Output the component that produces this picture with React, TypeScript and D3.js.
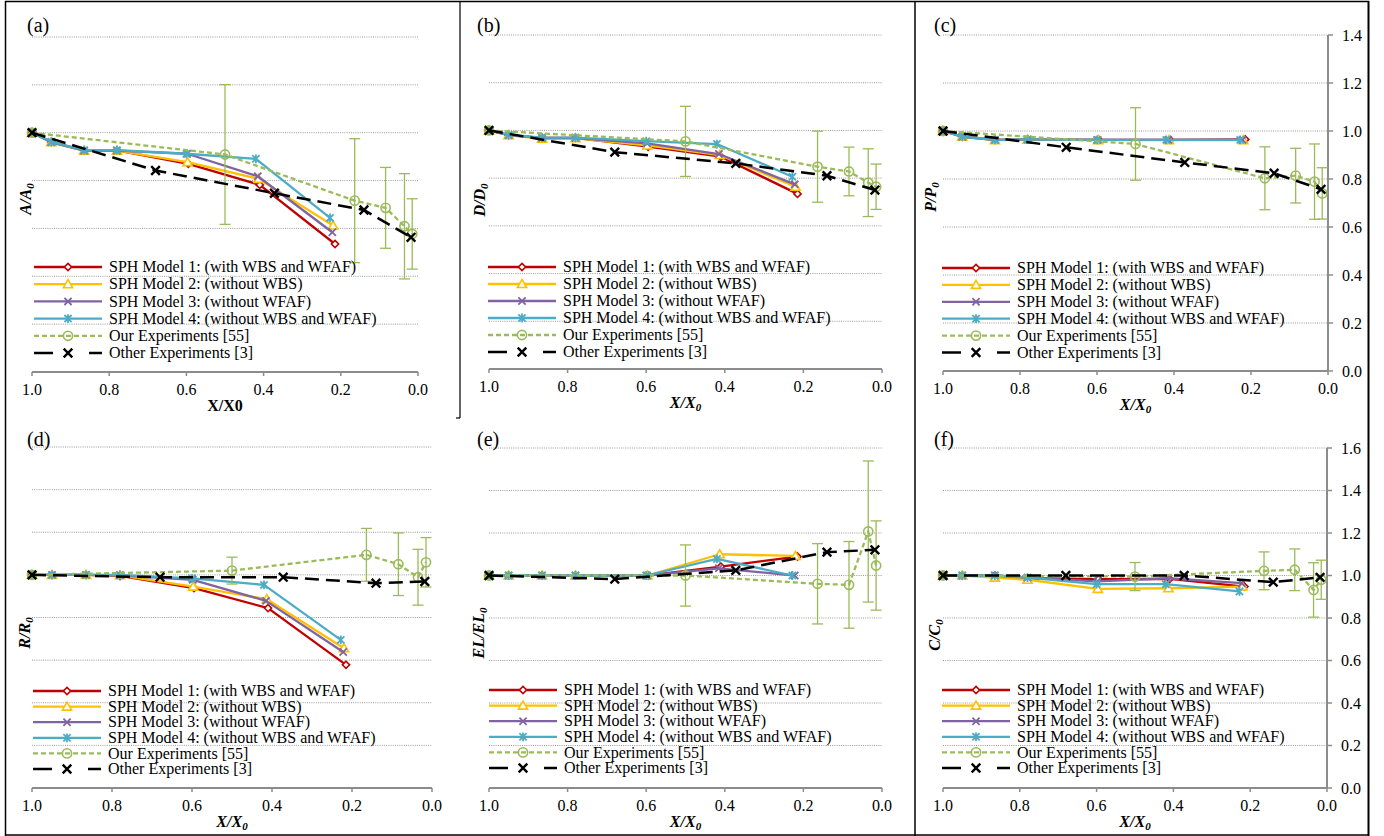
import React from "react";
import * as d3 from "d3";

// ---------- shared x positions (X/X0) ----------
const xModel1 = [1.0, 0.95, 0.865, 0.78, 0.595, 0.41, 0.215];
const xModel2 = [1.0, 0.95, 0.865, 0.78, 0.597, 0.413, 0.22];
const xModel3 = [1.0, 0.95, 0.865, 0.78, 0.598, 0.415, 0.222];
const xModel4 = [1.0, 0.95, 0.865, 0.78, 0.6, 0.42, 0.228];
const xOurExp = [1.0, 0.5, 0.164, 0.084, 0.035, 0.015];
const xOtherExp = [1.0, 0.68, 0.372, 0.14, 0.018];

const xTicks = [1.0, 0.8, 0.6, 0.4, 0.2, 0.0];

const legendLabels = [
  "SPH Model 1: (with WBS and WFAF)",
  "SPH Model 2: (without WBS)",
  "SPH Model 3: (without WFAF)",
  "SPH Model 4: (without WBS and WFAF)",
  "Our Experiments [55]",
  "Other Experiments [3]",
];

// ---------- (a) A/A0 ----------
const aModel1 = [1, 0.961, 0.926, 0.926, 0.87, 0.782, 0.535];
const aModel2 = [1, 0.96, 0.925, 0.925, 0.877, 0.807, 0.612];
const aModel3 = [1, 0.96, 0.925, 0.925, 0.912, 0.818, 0.584];
const aModel4 = [1, 0.962, 0.927, 0.927, 0.912, 0.891, 0.644];
const aOurExp = [1, 0.909, 0.716, 0.686, 0.609, 0.577];
const aOurErr = [0, 0.292, 0.259, 0.169, 0.22, 0.147];
const aOtherExp = [1, 0.842, 0.747, 0.677, 0.563];

// ---------- (b) D/D0 ----------
const bModel1 = [1, 0.98, 0.969, 0.969, 0.932, 0.89, 0.734];
const bModel2 = [1, 0.98, 0.965, 0.967, 0.937, 0.897, 0.764];
const bModel3 = [1, 0.98, 0.968, 0.968, 0.946, 0.901, 0.774];
const bModel4 = [1, 0.982, 0.97, 0.97, 0.955, 0.943, 0.806];
const bOurExp = [1, 0.954, 0.848, 0.828, 0.781, 0.764];
const bOurErr = [0, 0.147, 0.149, 0.102, 0.142, 0.095];
const bOtherExp = [1, 0.909, 0.862, 0.81, 0.75];

// ---------- (c) P/P0 ----------
const cModel1 = [1, 0.976, 0.963, 0.965, 0.963, 0.963, 0.965];
const cModel2 = [1, 0.976, 0.962, 0.964, 0.962, 0.962, 0.962];
const cModel3 = [1, 0.976, 0.963, 0.965, 0.963, 0.963, 0.963];
const cModel4 = [1, 0.977, 0.963, 0.965, 0.963, 0.963, 0.963];
const cOurExp = [1, 0.946, 0.803, 0.814, 0.789, 0.74];
const cOurErr = [0, 0.151, 0.131, 0.114, 0.157, 0.107];
const cOtherExp = [1, 0.932, 0.869, 0.824, 0.757];

// ---------- (d) R/R0 ----------
const dModel1 = [1, 1, 1, 0.995, 0.938, 0.844, 0.578];
const dModel2 = [1, 1, 1, 0.998, 0.945, 0.886, 0.656];
const dModel3 = [1, 1, 1, 0.998, 0.977, 0.878, 0.638];
const dModel4 = [1, 1, 1, 1, 0.984, 0.953, 0.695];
const dOurExp = [1, 1.02, 1.094, 1.05, 0.989, 1.059];
const dOurErr = [0, 0.063, 0.124, 0.147, 0.131, 0.116];
const dOtherExp = [1, 0.989, 0.989, 0.961, 0.969];

// ---------- (e) EL/EL0 ----------
const eModel1 = [1, 1, 1, 1, 1, 1.042, 1.089];
const eModel2 = [1, 1, 1, 1, 1, 1.1, 1.092];
const eModel3 = [1, 1, 1, 1, 1, 1.034, 1.0];
const eModel4 = [1, 1, 1, 1, 1, 1.078, 1.0];
const eOurExp = [1, 1.0, 0.961, 0.956, 1.207, 1.047];
const eOurErr = [0, 0.144, 0.189, 0.204, 0.332, 0.21];
const eOtherExp = [1, 0.983, 1.024, 1.11, 1.121];

// ---------- (f) C/C0 ----------
const fModel1 = [1, 1, 1, 0.987, 0.983, 0.984, 0.948];
const fModel2 = [1, 1, 0.99, 0.98, 0.937, 0.94, 0.948];
const fModel3 = [1, 1, 1, 0.99, 0.972, 0.987, 0.964];
const fModel4 = [1, 1, 1, 0.99, 0.959, 0.959, 0.925];
const fOurExp = [1, 0.995, 1.022, 1.027, 0.932, 0.98];
const fOurErr = [0, 0.066, 0.089, 0.098, 0.128, 0.092];
const fOtherExp = [1, 1.0, 1.0, 0.969, 0.991];

// ---------- styles ----------
const COLORS = ["#C00000", "#FFC000", "#8064A2", "#4BACC6", "#9BBB59", "#000000"];
const MARKERS = ["diamond", "triangle", "x", "star", "circle", "xbold"];
const FONT = "'Liberation Serif', 'Times New Roman', serif";

type PanelDef = {
  label: string;
  yVar: string;
  xTitleSub: boolean;
  yMax: number;
  right: boolean;
  models: number[][];
  our: number[];
  ourErr: number[];
  other: number[];
  L: {
    x0: number; x1: number; yT: number; yB: number;
    tx: number; ty: number; lx: number; ly: number;
    legX: number; legY: number; legStep: number;
  };
};

const PANELS: PanelDef[] = [
  {
    label: "(a)", yVar: "A", xTitleSub: false, yMax: 1.4, right: false,
    models: [aModel1, aModel2, aModel3, aModel4], our: aOurExp, ourErr: aOurErr, other: aOtherExp,
    L: { x0: 32, x1: 418, yT: 37, yB: 372, tx: 25, ty: 199, lx: 27, ly: 32, legX: 34, legY: 267, legStep: 17.2 },
  },
  {
    label: "(b)", yVar: "D", xTitleSub: true, yMax: 1.4, right: false,
    models: [bModel1, bModel2, bModel3, bModel4], our: bOurExp, ourErr: bOurErr, other: bOtherExp,
    L: { x0: 489, x1: 882, yT: 35, yB: 369, tx: 479, ty: 200, lx: 477, ly: 32, legX: 488, legY: 267, legStep: 17 },
  },
  {
    label: "(c)", yVar: "P", xTitleSub: true, yMax: 1.4, right: true,
    models: [cModel1, cModel2, cModel3, cModel4], our: cOurExp, ourErr: cOurErr, other: cOtherExp,
    L: { x0: 943, x1: 1328, yT: 35, yB: 371, tx: 930, ty: 197, lx: 934, ly: 32, legX: 942, legY: 268, legStep: 16.9 },
  },
  {
    label: "(d)", yVar: "R", xTitleSub: true, yMax: 1.6, right: false,
    models: [dModel1, dModel2, dModel3, dModel4], our: dOurExp, ourErr: dOurErr, other: dOtherExp,
    L: { x0: 32, x1: 432, yT: 447, yB: 788, tx: 24, ty: 633, lx: 27, ly: 446, legX: 33, legY: 691, legStep: 15.6 },
  },
  {
    label: "(e)", yVar: "EL", xTitleSub: true, yMax: 1.6, right: false,
    models: [eModel1, eModel2, eModel3, eModel4], our: eOurExp, ourErr: eOurErr, other: eOtherExp,
    L: { x0: 489, x1: 882, yT: 448, yB: 788, tx: 478, ty: 633, lx: 477, ly: 446, legX: 489, legY: 690, legStep: 15.6 },
  },
  {
    label: "(f)", yVar: "C", xTitleSub: true, yMax: 1.6, right: true,
    models: [fModel1, fModel2, fModel3, fModel4], our: fOurExp, ourErr: fOurErr, other: fOtherExp,
    L: { x0: 943, x1: 1327, yT: 448, yB: 788, tx: 934, ty: 635, lx: 934, ly: 446, legX: 942, legY: 690, legStep: 15.6 },
  },
];

const MODEL_X = [xModel1, xModel2, xModel3, xModel4];

function Marker({ type, x, y, color }: { type: string; x: number; y: number; color: string }) {
  switch (type) {
    case "diamond": {
      const r = 3.6;
      return <path d={`M${x},${y - r}L${x + r},${y}L${x},${y + r}L${x - r},${y}Z`} fill="#fff" stroke={color} strokeWidth={1.6} />;
    }
    case "triangle": {
      return <path d={`M${x},${y - 4.5}L${x + 4.6},${y + 3.5}L${x - 4.6},${y + 3.5}Z`} fill="#fff" stroke={color} strokeWidth={1.6} />;
    }
    case "x": {
      const r = 3.6;
      return <path d={`M${x - r},${y - r}L${x + r},${y + r}M${x - r},${y + r}L${x + r},${y - r}`} stroke={color} strokeWidth={1.8} />;
    }
    case "star": {
      const r = 3.6;
      return (
        <path
          d={`M${x - r},${y - r}L${x + r},${y + r}M${x - r},${y + r}L${x + r},${y - r}M${x},${y - r - 0.8}L${x},${y + r + 0.8}`}
          stroke={color}
          strokeWidth={1.8}
        />
      );
    }
    case "circle":
      return <circle cx={x} cy={y} r={4.6} fill="none" stroke={color} strokeWidth={1.6} />;
    case "xbold": {
      const r = 4.3;
      return <path d={`M${x - r},${y - r}L${x + r},${y + r}M${x - r},${y + r}L${x + r},${y - r}`} stroke={color} strokeWidth={2.4} />;
    }
  }
  return null;
}

function Panel({ p }: { p: PanelDef }) {
  const L = p.L;
  const xs = d3.scaleLinear().domain([1, 0]).range([L.x0, L.x1]);
  const ys = d3.scaleLinear().domain([0, p.yMax]).range([L.yB, L.yT]);
  const yTicks = d3.range(0, p.yMax + 1e-6, 0.2);
  const fmt = d3.format(".1f");
  const line = d3
    .line<[number, number]>()
    .x((d) => xs(d[0]))
    .y((d) => ys(d[1]));

  const modelPts = p.models.map((vals, i) => vals.map((v, j) => [MODEL_X[i][j], v] as [number, number]));
  const ourPts = p.our.map((v, j) => [xOurExp[j], v] as [number, number]);
  const otherPts = p.other.map((v, j) => [xOtherExp[j], v] as [number, number]);

  const axisColor = "#8C8C8C";

  return (
    <g>
      {/* gridlines */}
      {yTicks
        .filter((t) => t > 1e-6)
        .map((t) => (
          <line
            key={"g" + t}
            x1={L.x0}
            x2={L.x1}
            y1={ys(t)}
            y2={ys(t)}
            stroke="#9A9A9A"
            strokeWidth={1}
            strokeDasharray="1 1.2"
          />
        ))}

      {/* bottom axis */}
      <line x1={L.x0} x2={L.x1} y1={L.yB} y2={L.yB} stroke={axisColor} strokeWidth={2} />
      {xTicks.map((t) => (
        <g key={"xt" + t}>
          <line x1={xs(t)} x2={xs(t)} y1={L.yB} y2={L.yB + 4} stroke={axisColor} strokeWidth={1.5} />
          <text x={xs(t)} y={L.yB + 23} textAnchor="middle" fontSize={16} fill="#000">
            {fmt(t)}
          </text>
        </g>
      ))}

      {/* right axis */}
      {p.right && (
        <g>
          <line x1={L.x1} x2={L.x1} y1={L.yT} y2={L.yB} stroke={axisColor} strokeWidth={2} />
          {yTicks.map((t) => (
            <g key={"yt" + t}>
              <line x1={L.x1} x2={L.x1 + 5} y1={ys(t)} y2={ys(t)} stroke={axisColor} strokeWidth={1.5} />
              <text x={L.x1 + 14} y={ys(t)} dy="0.35em" textAnchor="start" fontSize={16} fill="#000">
                {fmt(t)}
              </text>
            </g>
          ))}
        </g>
      )}

      {/* x title */}
      {p.xTitleSub ? (
        <text x={(L.x0 + L.x1) / 2} y={L.yB + 39} textAnchor="middle" fontSize={16} fontWeight="bold" fontStyle="italic">
          X/X<tspan fontSize={11} dy={3}>0</tspan>
        </text>
      ) : (
        <text x={(L.x0 + L.x1) / 2} y={L.yB + 39} textAnchor="middle" fontSize={16} fontWeight="bold">
          X/X0
        </text>
      )}

      {/* y title */}
      <text
        transform={`translate(${L.tx},${L.ty}) rotate(-90)`}
        textAnchor="middle"
        dy="0.35em"
        fontSize={16}
        fontWeight="bold"
        fontStyle="italic"
      >
        {p.yVar}/{p.yVar}
        <tspan fontSize={11} dy={3}>0</tspan>
      </text>

      {/* panel label */}
      <text x={L.lx} y={L.ly} fontSize={20}>
        {p.label}
      </text>

      {/* SPH model series */}
      {modelPts.map((pts, i) => (
        <g key={"m" + i}>
          <path d={line(pts) || ""} fill="none" stroke={COLORS[i]} strokeWidth={2.3} strokeLinejoin="round" />
          {pts.map((d, j) => (
            <Marker key={j} type={MARKERS[i]} x={xs(d[0])} y={ys(d[1])} color={COLORS[i]} />
          ))}
        </g>
      ))}

      {/* our experiments */}
      <g>
        {ourPts.map((d, j) =>
          p.ourErr[j] > 0 ? (
            <g key={"e" + j}>
              <line x1={xs(d[0])} x2={xs(d[0])} y1={ys(d[1] - p.ourErr[j])} y2={ys(d[1] + p.ourErr[j])} stroke={COLORS[4]} strokeWidth={1.3} />
              <line x1={xs(d[0]) - 5.5} x2={xs(d[0]) + 5.5} y1={ys(d[1] - p.ourErr[j])} y2={ys(d[1] - p.ourErr[j])} stroke={COLORS[4]} strokeWidth={1.3} />
              <line x1={xs(d[0]) - 5.5} x2={xs(d[0]) + 5.5} y1={ys(d[1] + p.ourErr[j])} y2={ys(d[1] + p.ourErr[j])} stroke={COLORS[4]} strokeWidth={1.3} />
            </g>
          ) : null
        )}
        <path d={line(ourPts) || ""} fill="none" stroke={COLORS[4]} strokeWidth={2.3} strokeDasharray="5 3" />
        {ourPts.map((d, j) => (
          <Marker key={j} type={MARKERS[4]} x={xs(d[0])} y={ys(d[1])} color={COLORS[4]} />
        ))}
      </g>

      {/* other experiments */}
      <g>
        <path d={line(otherPts) || ""} fill="none" stroke={COLORS[5]} strokeWidth={2.5} strokeDasharray="14 7" />
        {otherPts.map((d, j) => (
          <Marker key={j} type={MARKERS[5]} x={xs(d[0])} y={ys(d[1])} color={COLORS[5]} />
        ))}
      </g>

      {/* legend */}
      {legendLabels.map((lab, i) => {
        const y = L.legY + i * L.legStep;
        const dash = i === 4 ? "5 3" : i === 5 ? "13 35" : undefined;
        return (
          <g key={"lg" + i}>
            {i === 5 ? (
              <g>
                <line x1={L.legX} x2={L.legX + 19} y1={y} y2={y} stroke={COLORS[i]} strokeWidth={2.5} />
                <line x1={L.legX + 55} x2={L.legX + 68} y1={y} y2={y} stroke={COLORS[i]} strokeWidth={2.5} />
              </g>
            ) : (
              <line x1={L.legX} x2={L.legX + 68} y1={y} y2={y} stroke={COLORS[i]} strokeWidth={2.3} strokeDasharray={dash} />
            )}
            <Marker type={MARKERS[i]} x={L.legX + 34} y={y} color={COLORS[i]} />
            <text x={L.legX + 75} y={y} dy="0.33em" fontSize={16} fill="#000">
              {lab}
            </text>
          </g>
        );
      })}
    </g>
  );
}

export default function App() {
  return (
    <div style={{ position: "absolute", left: 0, top: 0 }}>
      <svg width={1384} height={836} style={{ display: "block", background: "#fff" }} fontFamily={FONT}>
        <rect x={0} y={0} width={1384} height={836} fill="#fff" />
        {PANELS.map((p) => (
          <Panel key={p.label} p={p} />
        ))}
        {/* frames */}
        <line x1={5} x2={1369} y1={1.5} y2={1.5} stroke="#000" strokeWidth={1.5} />
        <line x1={5} x2={1369} y1={835} y2={835} stroke="#000" strokeWidth={1.5} />
        <line x1={5.5} x2={5.5} y1={1} y2={836} stroke="#000" strokeWidth={1.5} />
        <line x1={1368.5} x2={1368.5} y1={1} y2={836} stroke="#000" strokeWidth={2} />
        <line x1={915} x2={915} y1={1} y2={836} stroke="#000" strokeWidth={1.5} />
        <line x1={460} x2={460} y1={1} y2={418} stroke="#000" strokeWidth={1.2} />
        <line x1={456} x2={460} y1={418} y2={418} stroke="#000" strokeWidth={1.2} />
      </svg>
    </div>
  );
}
